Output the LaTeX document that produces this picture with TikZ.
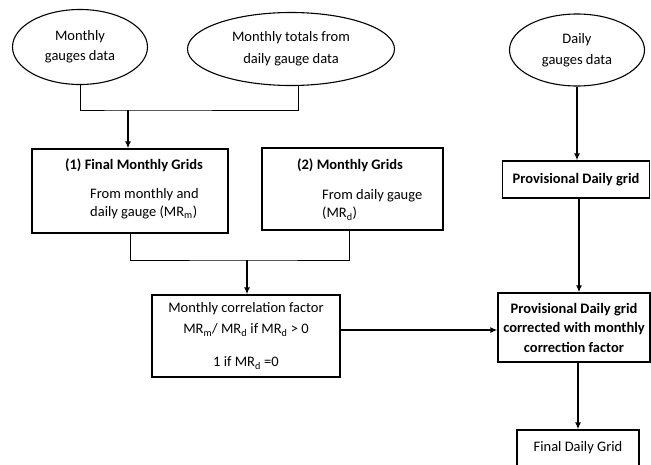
\documentclass[tikz,border=0pt]{standalone}
\usepackage{fontspec}
\setmainfont{Carlito}
\usetikzlibrary{arrows.meta,shapes.geometric}
\begin{document}
\begin{tikzpicture}[x=1pt,y=-1pt,
  every node/.style={font=\fontsize{14.5}{20}\selectfont, inner sep=0pt},
  oval/.style={draw, ellipse, line width=1.1pt, align=center},
  box/.style={draw, rectangle, line width=1.3pt, align=center},
  txt/.style={align=left, font=\fontsize{14.5}{18}\selectfont},
  ttl/.style={font=\fontsize{14.5}{18}\selectfont\bfseries},
  link/.style={line width=0.8pt},
  arr/.style={line width=1.4pt, -{Latex[length=7pt,width=6pt]}}]
\useasboundingbox (0,0) rectangle (651,464);

% ellipses
\node[oval, minimum width=135pt, minimum height=75pt, font=\fontsize{14.5}{20}\selectfont] (e1) at (80,47) {Monthly\\gauges data};
\node[oval, minimum width=207pt, minimum height=73pt, font=\fontsize{14.5}{22}\selectfont] (e2) at (291,49) {Monthly totals from\\daily gauge data};
\node[oval, minimum width=135pt, minimum height=72pt, font=\fontsize{14.5}{21}\selectfont] (e3) at (577,50) {Daily\\gauges data};

% boxes
\node[box, minimum width=196pt, minimum height=84pt] (b1) at (130,191) {};
\node[ttl] (t1a) at (134,165) {(1) Final Monthly Grids};
\node[txt, anchor=west] (t1b) at (90,204) {From monthly and\\daily gauge (MR\textsubscript{m})};

\node[box, minimum width=181pt, minimum height=82pt] (b2) at (352.5,189) {};
\node[ttl] (t2a) at (350,165) {(2) Monthly Grids};
\node[txt, anchor=west] (t2b) at (322,205) {From daily gauge\\(MR\textsubscript{d})};

\node[box, minimum width=147pt, minimum height=37pt, font=\fontsize{14.5}{18}\selectfont\bfseries] (pg) at (576,179.5) {Provisional Daily grid};

\node[box, minimum width=188pt, minimum height=82pt, font=\fontsize{14.5}{21}\selectfont] (b3) at (246,336)
  {Monthly correlation factor\\MR\textsubscript{m}/ MR\textsubscript{d} if MR\textsubscript{d} > 0\\[12pt]1 if MR\textsubscript{d} =0};

\node[box, minimum width=152pt, minimum height=69pt, font=\fontsize{14.5}{19.5}\selectfont\bfseries] (b4) at (574,327.5)
  {Provisional Daily grid\\corrected with monthly\\correction factor};

\node[box, minimum width=122pt, minimum height=36pt] (b5) at (578,448) {Final Daily Grid};

% connectors
\coordinate (j1) at (128,110);
\draw[link] (e1.south) |- (j1) -| ([xshift=7pt]e2.south);
\draw[arr] (j1) -- (j1 |- b1.north);

\coordinate (j2) at (247,260);
\draw[link] (b1.south) |- (j2) -| ([xshift=-3pt]b2.south);
\draw[arr] (j2) -- (j2 |- b3.north);

\coordinate (c3) at ([yshift=6pt]b3.east);
\draw[arr] (c3) -- (c3 -| b4.west);

\draw[arr] (e3.south) -- (e3.south |- pg.north);
\draw[arr] ([xshift=3pt]pg.south) -- ([xshift=3pt]pg.south |- b4.north);
\draw[arr] ([xshift=4pt]b4.south) -- ([xshift=4pt]b4.south |- b5.north);
\end{tikzpicture}
\end{document}
